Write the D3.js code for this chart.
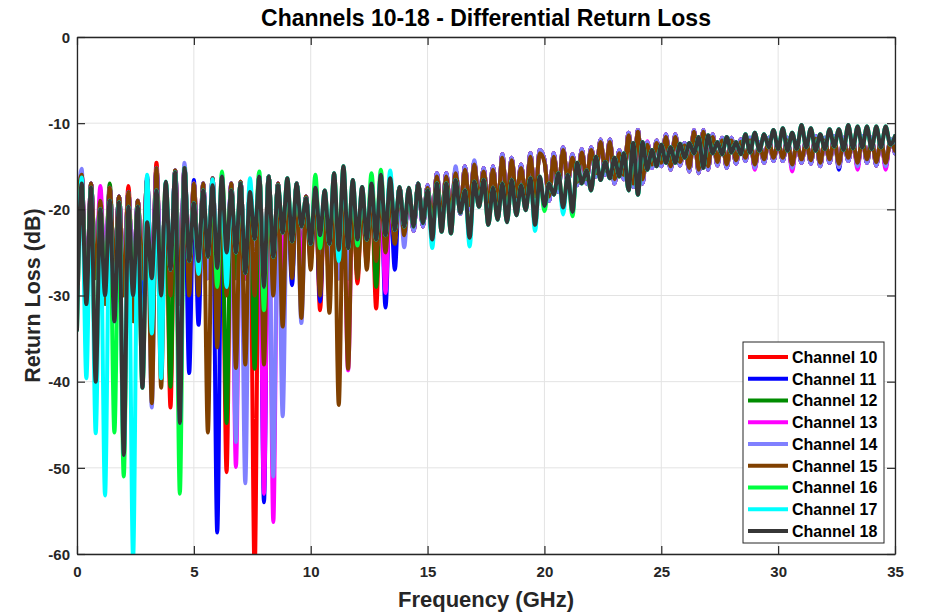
<!DOCTYPE html>
<html><head><meta charset="utf-8">
<script src="https://cdn.jsdelivr.net/npm/d3@7"></script>
<style>body{margin:0;background:#fff}svg{display:block;font-family:"Liberation Sans",Arial,sans-serif}</style>
</head><body>
<svg id="chart" width="926" height="614"></svg>
<script>
// Frequency grid (GHz)
const freqGHz = [
0,0.2,0.4,0.6,0.8,1,1.2,1.4,1.6,1.8,2,2.2,2.4,2.6,2.8,3,3.2,3.4,3.6,3.8,4,4.2,4.4,4.6,4.8,
5,5.2,5.4,5.6,5.8,6,6.2,6.4,6.6,6.8,7,7.2,7.4,7.6,7.8,8,8.2,8.4,8.6,8.8,9,9.2,9.4,9.6,9.8,
10,10.2,10.4,10.6,10.8,11,11.2,11.4,11.6,11.8,12,12.2,12.4,12.6,12.8,13,13.2,13.4,13.6,13.8,14,14.2,14.4,14.6,14.8,
15,15.2,15.4,15.6,15.8,16,16.2,16.4,16.6,16.8,17,17.2,17.4,17.6,17.8,18,18.2,18.4,18.6,18.8,19,19.2,19.4,19.6,19.8,
20,20.2,20.4,20.6,20.8,21,21.2,21.4,21.6,21.8,22,22.2,22.4,22.6,22.8,23,23.2,23.4,23.6,23.8,24,24.2,24.4,24.6,24.8,
25,25.2,25.4,25.6,25.8,26,26.2,26.4,26.6,26.8,27,27.2,27.4,27.6,27.8,28,28.2,28.4,28.6,28.8,29,29.2,29.4,29.6,29.8,
30,30.2,30.4,30.6,30.8,31,31.2,31.4,31.6,31.8,32,32.2,32.4,32.6,32.8,33,33.2,33.4,33.6,33.8,34,34.2,34.4,34.6,34.8,35];

// Channel 18 (dark gray) return loss, dB
const ch18 = [
-34,-17,-31,-17.5,-40,-20,-30,-19,-33,-19.2,-48.5,-19.7,-30,-19.7,-40.7,-21.5,-28,-17.8,-30,-16.8,-27,-15.7,-44.8,-15.2,-26,
-19.3,-26,-17.8,-25.5,-17.2,-26.8,-16.2,-25,-17.8,-25,-17,-27.4,-18,-23.4,-16.2,-29,-16.2,-25.5,-17.2,-22.7,-16.4,-23.7,-17,-22,-18.7,
-24,-17.5,-23,-17.8,-24,-15.8,-24.7,-15,-24.5,-16.6,-23.5,-17.4,-23.5,-17,-23.5,-16,-23,-16.4,-22.4,-17.4,-22,-17.5,-22,-17,-21.6,
-17.8,-23.5,-17,-22.6,-17,-22.8,-16.6,-20.4,-17.8,-23.3,-16.8,-19.7,-16.6,-21.8,-17.5,-21.2,-17,-21.5,-16.6,-20.7,-17.2,-20.1,-16.4,-21.8,-16.2,
-19.6,-17,-18.3,-15.8,-19.8,-16,-20.3,-14.6,-17,-15.5,-17.8,-13.9,-16.6,-14.5,-16.4,-14,-16.2,-13.5,-17.8,-12.3,-18.3,-12.2,-15.4,-13.1,-15,
-12.5,-14.6,-12.8,-14.6,-12.4,-14,-12.3,-13.5,-11.6,-15.2,-11.4,-13.5,-12.2,-13.6,-11.6,-13.4,-12.2,-13.6,-11.3,-13.4,-11.1,-13.2,-11.3,-12.8,-10.8,
-13,-10.6,-13.2,-11.1,-13,-10.2,-12.8,-10.6,-13.2,-11.3,-13,-10.7,-12.7,-10.7,-13.1,-10.2,-12.9,-10.4,-12.8,-10.4,-13,-10.4,-12.8,-10.4,-12.5,-11.5];

// Channel 15 (brown) return loss, dB
const ch15 = [
-20,-16,-33,-17,-28,-19,-31,-17.5,-27,-18.5,-30,-18,-33,-19,-28,-16.5,-42.5,-15.2,-40.7,-18,-30,-15.5,-31,-15.2,-30,
-17,-30,-17,-45.9,-16.4,-36,-18,-30,-17,-38.4,-16.8,-38,-18,-30,-16.2,-38,-16.2,-30,-17,-33.6,-17.5,-28,-17,-32.6,-18.5,
-27,-18,-30,-18.5,-32,-17.5,-42.7,-18,-38.5,-18,-28,-18.5,-27,-18,-26,-18,-25,-18.5,-24,-17.5,-23,-18,-22,-17,-21.5,
-17.5,-21.5,-16.2,-21,-16.2,-20.5,-15.8,-20,-15.4,-19.5,-14.8,-19,-15.6,-19.5,-15.4,-19.5,-14,-19,-14.3,-18.5,-15.2,-18.5,-13.9,-18.5,-13.5,
-14.5,-18.5,-13.9,-17.5,-13.1,-16.6,-14,-16.8,-13.4,-16.5,-13.1,-15.8,-12.2,-15.5,-12.2,-16.5,-13.5,-16,-11.4,-17,-11,-16.5,-12.5,-14.8,-12.3,
-14.6,-11.6,-15,-11.6,-14.5,-12.6,-15.2,-11,-15.4,-11,-15,-11.6,-14.5,-12,-14.8,-12,-14.3,-12.2,-14,-12,-14.8,-12.5,-14.2,-12,-14,
-12.3,-14,-12,-14.8,-12.4,-14.2,-12.2,-14.3,-11.8,-14.6,-12,-14.2,-11.8,-14.7,-12,-14,-12.2,-14.6,-11.8,-14.2,-12,-14.5,-12,-14.6,-12.2,-13.2];

// Shared response of channels 10-14, dB
const group10to14 = [
-22,-16,-30,-17,-27,-19,-28,-17.5,-27,-18.5,-28,-18,-29,-19,-27,-16.5,-30,-15.2,-29,-18,-28,-15.5,-29,-15.2,-27,
-17,-27,-17,-28,-16.4,-28,-18,-27,-17,-28,-16.8,-28,-18,-26,-16.2,-28,-16.2,-26,-17,-27,-17.5,-26,-17,-27,-18.5,
-25,-18,-27,-18.5,-27,-17.5,-28,-18,-28,-18,-26,-18.5,-25.5,-18,-25,-18,-24.5,-18.5,-23.5,-17.5,-23,-18,-22.5,-17,-22,
-17.2,-22,-15.8,-21.5,-15.8,-21,-15.4,-20.5,-15,-20,-14.5,-19.5,-15.2,-20,-15,-20,-13.6,-19.5,-14,-19,-14.8,-19,-13.5,-19,-13.1,
-14.2,-19,-13.5,-18,-12.8,-17,-13.6,-17.2,-13,-17,-12.8,-16.2,-11.9,-16,-11.9,-17,-13.1,-16.5,-11.1,-17.4,-10.8,-17,-12.2,-15.2,-12,
-15,-11.3,-15.4,-11.3,-14.9,-12.3,-15.6,-10.8,-15.8,-10.8,-15.4,-11.3,-14.9,-11.7,-15.2,-11.7,-14.7,-11.9,-14.4,-11.7,-15.2,-12.2,-14.6,-11.7,-14.4,
-12,-14.4,-11.7,-15.2,-12.1,-14.6,-11.9,-14.7,-11.5,-15,-11.7,-14.6,-11.5,-15.1,-11.7,-14.4,-11.9,-15,-11.5,-14.6,-11.7,-14.9,-11.7,-15,-11.9,-13.5];

// Per-channel resonances [GHz, dB] that differ from the shared response
const ch10Dips = [[2.2,-17.3],[3.4,-14.6],[4.0,-43],[6.4,-50.5],[7.6,-62],[10.4,-31.7],[10.8,-29],[12.0,-28.6],[12.4,-26.3],[12.8,-31.5]];
const ch11Dips = [[2.8,-35.5],[3.0,-16.2],[4.8,-39],[5.0,-16.6],[5.2,-33.4],[6.0,-57.5],[8.0,-54],[9.2,-28.8],[10.0,-25.9],[10.4,-30.7],[13.2,-31.4],[13.6,-27],[32.6,-15.4]];
const ch12Dips = [[1.4,-17],[4.0,-40.6],[6.4,-44.8],[7.6,-38.5],[12.0,-27.5],[12.8,-29]];
const ch13Dips = [[1.0,-17.3],[6.8,-49.9],[8.0,-53],[8.4,-56.3],[11.6,-38.7],[13.2,-29.7],[24.4,-12.1],[29.0,-15.4],[30.6,-15.6],[33.4,-15.4],[34.6,-15.4]];
const ch14Dips = [[0.2,-15.3],[0.4,-35],[3.2,-43],[4.6,-14.6],[6.8,-47],[7.2,-51.8],[8.4,-51],[8.8,-44],[9.6,-33.2],[14.0,-24.4],[16.2,-15],[17.0,-14.3]];
const ch16Dips = [[1.6,-45.9],[2.0,-51],[4.4,-53],[6.0,-29],[6.2,-15.6],[7.8,-15.6],[8.0,-31.7],[10.2,-16],[10.4,-24.5],[12.0,-24.2],[12.6,-15.8],[13.0,-15.4],[20.0,-20.2],[21.2,-20.8]];
const ch17Dips = [[0.2,-16.3],[0.4,-39.6],[0.8,-46],[1.2,-53.2],[2.4,-60.5],[3.0,-16],[3.2,-34.4],[3.6,-39.6],[5.2,-27.5],[5.8,-16.5],[6.4,-29],[7.4,-16.4],[11.2,-26],[13.4,-15.5],[15.2,-24.5],[16.8,-24.3],[19.6,-22.5],[20.8,-20.6]];
const noDips = [];

const channelNames = ["Channel 10","Channel 11","Channel 12","Channel 13","Channel 14","Channel 15","Channel 16","Channel 17","Channel 18"];
const channelColors = ["#ff0000","#0000ff","#008c00","#ff00ff","#8080ff","#804000","#00ff40","#00ffff","#363636"];
const channelBase = [group10to14,group10to14,group10to14,group10to14,group10to14,ch15,ch18,ch18,ch18];
const channelDips = [ch10Dips,ch11Dips,ch12Dips,ch13Dips,ch14Dips,noDips,ch16Dips,ch17Dips,noDips];

const xTicks = [0,5,10,15,20,25,30,35];
const yTicks = [-60,-50,-40,-30,-20,-10,0];

const series = channelNames.map((name,k) => {
  const vals = channelBase[k].slice();
  channelDips[k].forEach(([f,v]) => {
    const i = freqGHz.findIndex(q => Math.abs(q - f) < 1e-6);
    if (i >= 0) vals[i] = v;
  });
  return {name, color: channelColors[k], pts: freqGHz.map((f,i) => [f, vals[i]])};
});

const svg = d3.select("#chart");
const L = 77, R = 895, T = 37, B = 554;
const x = d3.scaleLinear().domain([0,35]).range([L,R]);
const y = d3.scaleLinear().domain([-60,0]).range([B,T]);
const ink = "#262626";
const fmt = d => String(d);

// grid
svg.append("g").selectAll("line").data(xTicks).join("line")
  .attr("x1",d=>x(d)).attr("x2",d=>x(d)).attr("y1",T).attr("y2",B)
  .attr("stroke","#e3e3e3").attr("stroke-width",1);
svg.append("g").selectAll("line").data(yTicks).join("line")
  .attr("x1",L).attr("x2",R).attr("y1",d=>y(d)).attr("y2",d=>y(d))
  .attr("stroke","#e3e3e3").attr("stroke-width",1);

svg.append("clipPath").attr("id","plotclip").append("rect")
  .attr("x",L).attr("y",T).attr("width",R-L).attr("height",B-T);

const line = d3.line().x(d=>x(d[0])).y(d=>y(d[1])).curve(d3.curveMonotoneX);
svg.append("g").attr("clip-path","url(#plotclip)").selectAll("path").data(series).join("path")
  .attr("d",d=>line(d.pts)).attr("fill","none").attr("stroke",d=>d.color)
  .attr("stroke-width",4).attr("stroke-linejoin","round").attr("stroke-linecap","round");

// axes (box with inward ticks)
const tl = 8;
const axB = svg.append("g").attr("transform",`translate(0,${B})`)
  .call(d3.axisBottom(x).tickValues(xTicks).tickSizeInner(-tl).tickSizeOuter(0).tickPadding(12).tickFormat(fmt));
const axT = svg.append("g").attr("transform",`translate(0,${T})`)
  .call(d3.axisTop(x).tickValues(xTicks).tickSizeInner(-tl).tickSizeOuter(0).tickFormat(""));
const axL = svg.append("g").attr("transform",`translate(${L},0)`)
  .call(d3.axisLeft(y).tickValues(yTicks).tickSizeInner(-tl).tickSizeOuter(0).tickPadding(7).tickFormat(fmt));
const axR = svg.append("g").attr("transform",`translate(${R},0)`)
  .call(d3.axisRight(y).tickValues(yTicks).tickSizeInner(-tl).tickSizeOuter(0).tickFormat(""));
[axB,axT,axL,axR].forEach(a=>{
  a.select(".domain").attr("stroke",ink).attr("stroke-width",1.3);
  a.selectAll(".tick line").attr("stroke",ink).attr("stroke-width",1.2);
  a.selectAll(".tick text").attr("fill",ink).attr("font-size",15).attr("font-weight","bold")
    .attr("font-family","'Liberation Sans',Arial,sans-serif");
});
axL.selectAll(".tick text").attr("dy","0.35em");

// title and labels
svg.append("text").attr("x",(L+R)/2).attr("y",26).attr("text-anchor","middle")
  .attr("font-size",23).attr("font-weight","bold").attr("fill","#000")
  .text("Channels 10-18 - Differential Return Loss");
svg.append("text").attr("x",(L+R)/2).attr("y",607).attr("text-anchor","middle")
  .attr("font-size",22).attr("font-weight","bold").attr("fill",ink).text("Frequency (GHz)");
svg.append("text").attr("transform",`translate(40,${(T+B)/2}) rotate(-90)`).attr("text-anchor","middle")
  .attr("font-size",21.5).attr("font-weight","bold").attr("fill",ink).text("Return Loss (dB)");

// legend
const lg = svg.append("g");
lg.append("rect").attr("x",743).attr("y",342).attr("width",141).attr("height",201)
  .attr("fill","#fff").attr("stroke",ink).attr("stroke-width",1);
const rowY = i => 357 + i*21.75;
lg.selectAll("line").data(series).join("line")
  .attr("x1",748).attr("x2",788).attr("y1",(d,i)=>rowY(i)).attr("y2",(d,i)=>rowY(i))
  .attr("stroke",d=>d.color).attr("stroke-width",4);
lg.selectAll("text").data(series).join("text")
  .attr("x",792).attr("y",(d,i)=>rowY(i)).attr("dy","0.36em")
  .attr("font-size",16).attr("font-weight","bold").attr("fill","#000").text(d=>d.name);
</script>
</body></html>
